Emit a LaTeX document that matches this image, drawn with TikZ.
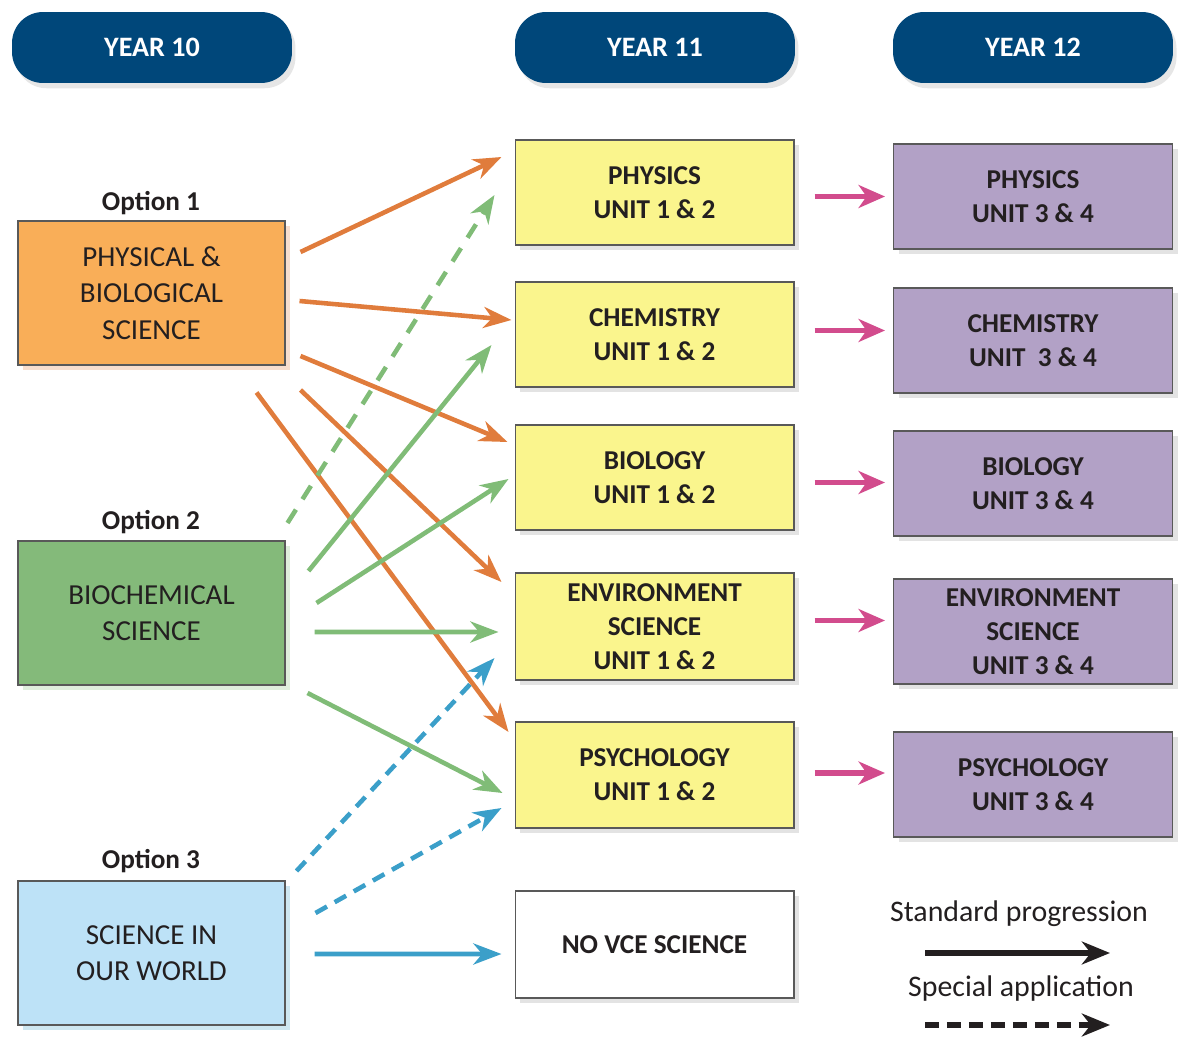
\documentclass[tikz,border=0pt]{standalone}
\usepackage{fontspec}
\setmainfont{Carlito}
\usetikzlibrary{arrows.meta,
                calc,
                shadows}

\definecolor{navy}{HTML}{00477A}
\definecolor{optorange}{HTML}{F9AE58}
\definecolor{optgreen}{HTML}{84BA7A}
\definecolor{optblue}{HTML}{BDE2F7}
\definecolor{unityellow}{HTML}{FAF58D}
\definecolor{unitpurple}{HTML}{B2A1C6}
\definecolor{arrorange}{HTML}{E07C3C}
\definecolor{arrgreen}{HTML}{80BC77}
\definecolor{arrblue}{HTML}{3B9FC9}
\definecolor{arrpink}{HTML}{D24C8D}
\definecolor{inkgrey}{HTML}{231F20}

\begin{document}
\begin{tikzpicture}[x=0.02cm, y=-0.02cm, text=inkgrey,
    yearbox/.style={fill=navy, text=white, rounded corners=0.62cm,
        minimum width=5.6cm, minimum height=1.42cm, inner sep=0pt,
        font=\fontsize{16}{19}\selectfont\bfseries,
        drop shadow={shadow xshift=2pt, shadow yshift=-3pt, opacity=0.2}},
    optlabel/.style={font=\fontsize{15.5}{19}\selectfont\bfseries},
    optbox/.style={draw=gray!70!black, line width=0.6pt, align=center,
        minimum width=5.34cm, minimum height=2.88cm, inner sep=0pt,
        font=\fontsize{16.5}{20.7}\selectfont},
    unitbox/.style={draw=gray!70!black, line width=0.6pt, align=center,
        minimum width=5.58cm, minimum height=2.1cm, inner sep=0pt,
        font=\fontsize{15.5}{19.3}\selectfont\bfseries,
        drop shadow={shadow xshift=3pt, shadow yshift=-3pt, opacity=0.22}},
    flow/.style={line width=2.6pt, -{Stealth[length=16pt, width=12pt, inset=5pt]}},
    special/.style={flow, dash pattern=on 9pt off 7pt},
    legendtext/.style={font=\fontsize{17}{20}\selectfont}]

    \useasboundingbox (0, 0) rectangle (1200, 1054);

    % year headers
    \node [yearbox] (y10) at (152, 47.5) {YEAR 10};
    \node [yearbox] (y11) at (655, 47.5) {YEAR 11};
    \node [yearbox] (y12) at (1033, 47.5) {YEAR 12};

    % year 10 options
    \node [optlabel] (opt1) at (151, 203) {Option 1};
    \node [optbox, fill=optorange,
           drop shadow={shadow xshift=3pt, shadow yshift=-3pt, fill=arrorange, opacity=0.25}]
          (pbs) at (151.5, 293) {PHYSICAL \&\\BIOLOGICAL\\SCIENCE};
    \node [optlabel] (opt2) at (151, 522) {Option 2};
    \node [optbox, fill=optgreen,
           drop shadow={shadow xshift=3pt, shadow yshift=-3pt, fill=arrgreen, opacity=0.25}]
          (bcs) at (151.5, 613) {BIOCHEMICAL\\SCIENCE};
    \node [optlabel] (opt3) at (151, 861) {Option 3};
    \node [optbox, fill=optblue,
           drop shadow={shadow xshift=3pt, shadow yshift=-3pt, fill=arrblue, opacity=0.25}]
          (siow) at (151.5, 953) {SCIENCE IN\\OUR WORLD};

    % year 11 units
    \node [unitbox, fill=unityellow] (phys) at (654.5, 192.5) {PHYSICS\\UNIT 1 \& 2};
    \node [unitbox, fill=unityellow] (chem) at (654.5, 334.5) {CHEMISTRY\\UNIT 1 \& 2};
    \node [unitbox, fill=unityellow] (bio) at (654.5, 477.5) {BIOLOGY\\UNIT 1 \& 2};
    \node [unitbox, fill=unityellow, minimum height=2.14cm] (env) at (654.5, 626.5)
          {ENVIRONMENT\\SCIENCE\\UNIT 1 \& 2};
    \node [unitbox, fill=unityellow, minimum height=2.12cm] (psych) at (654.5, 775)
          {PSYCHOLOGY\\UNIT 1 \& 2};
    \node [unitbox, fill=white, minimum height=2.14cm] (novce) at (654.5, 944.5) {NO VCE SCIENCE};

    % year 12 units
    \node [unitbox, fill=unitpurple] (phys12) at (1033, 196.5) {PHYSICS\\UNIT 3 \& 4};
    \node [unitbox, fill=unitpurple] (chem12) at (1033, 340.5) {CHEMISTRY\\UNIT~ 3 \& 4};
    \node [unitbox, fill=unitpurple] (bio12) at (1033, 483.5) {BIOLOGY\\UNIT 3 \& 4};
    \node [unitbox, fill=unitpurple] (env12) at (1033, 631.5)
          {ENVIRONMENT\\SCIENCE\\UNIT 3 \& 4};
    \node [unitbox, fill=unitpurple] (psych12) at (1033, 784.5) {PSYCHOLOGY\\UNIT 3 \& 4};

    % option 1
    \draw [flow, arrorange] ($(pbs.east)+(15,-41)$) -- ($(phys.west)+(-13,-35.5)$);
    \draw [flow, arrorange] ($(pbs.east)+(14,8)$) -- ($(chem.west)+(-3,-14.5)$);
    \draw [flow, arrorange] ($(pbs.east)+(15,63)$) -- ($(bio.west)+(-7,-35.5)$);
    \draw [flow, arrorange] ($(pbs.east)+(15,97)$) -- ($(env.west)+(-13,-44.5)$);
    \draw [flow, arrorange] ($(pbs.south east)+(-29,27)$) -- ($(psych.west)+(-6,-43)$);

    % option 2
    \draw [special, arrgreen] ($(bcs.east)+(2,-90)$) -- ($(phys.west)+(-20,2.5)$);
    \draw [flow, arrgreen] ($(bcs.east)+(23,-42)$) -- ($(chem.west)+(-23,10.5)$);
    \draw [flow, arrgreen] ($(bcs.east)+(31,-10)$) -- ($(bio.west)+(-6,1.5)$);
    \draw [flow, arrgreen] ($(bcs.east)+(29,19)$) -- ($(env.west)+(-16,5.5)$);
    \draw [flow, arrgreen] ($(bcs.east)+(22,80)$) -- ($(psych.west)+(-12,18)$);

    % option 3
    \draw [flow, arrblue, dash pattern=on 7.5pt off 5pt] ($(siow.east)+(11,-82)$) -- ($(env.west)+(-20,31.5)$);
    \draw [flow, arrblue, dash pattern=on 7.5pt off 5pt] ($(siow.east)+(30,-40)$) -- ($(psych.west)+(-13,33)$);
    \draw [flow, arrblue] ($(siow.east)+(29,1)$) -- ($(novce.west)+(-13,9.5)$);

    % year 11 to year 12
    \foreach \crs/\dy in {phys/4, chem/-4, bio/5, env/-6, psych/-2}
        \draw [arrpink, line width=2.9pt, -{Stealth[length=15pt, width=13pt, inset=4.5pt]}]
              ($(\crs.east)+(20,\dy)$) -- ($(\crs12.west |- \crs.east)+(-8,\dy)$);

    % legend
    \node [legendtext] (std) at (1019, 914) {Standard progression};
    \coordinate (stdA) at (925, 953);
    \coordinate (stdB) at (1110, 953);
    \draw [inkgrey, line width=2.9pt, -{Stealth[length=16pt, width=13pt, inset=5pt]}] (stdA) -- (stdB);
    \node [legendtext] (spec) at (1021, 989) {Special application};
    \coordinate (specA) at (925, 1025);
    \coordinate (specB) at (1110, 1025);
    \draw [inkgrey, line width=2.9pt, dash pattern=on 8pt off 4.5pt,
           -{Stealth[length=16pt, width=13pt, inset=5pt]}] (specA) -- (specB);
\end{tikzpicture}
\end{document}
